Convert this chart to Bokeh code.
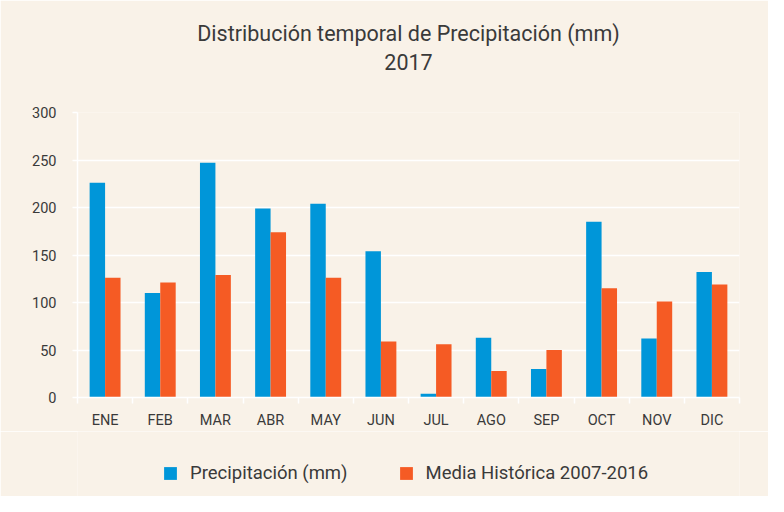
import numpy as np
from bokeh.plotting import figure
from bokeh.layouts import column
from bokeh.models import Range1d, FixedTicker, Title, Legend, LegendItem, ColumnDataSource
from bokeh.embed import file_html
from bokeh.resources import INLINE

months = ["ENE", "FEB", "MAR", "ABR", "MAY", "JUN", "JUL", "AGO", "SEP", "OCT", "NOV", "DIC"]
precip_2017 = [226, 110, 247, 199, 204, 154, 4, 63, 30, 185, 62, 132]
media_hist = [126, 121, 129, 174, 126, 59, 56, 28, 50, 115, 101, 119]
y_ticks = [0, 50, 100, 150, 200, 250, 300]

BG = "#F9F2E8"
BLUE = "#0096D9"
ORANGE = "#F55B24"
TXT = "#3A3A3A"
FONT = "Roboto"

centers = np.arange(len(months)) + 0.5
bw = 0.28
src = ColumnDataSource(dict(
    xb=centers - bw / 2, xo=centers + bw / 2,
    p=precip_2017, m=media_hist, mes=months))

p = figure(width=768, height=431,
           x_range=Range1d(0, 12), y_range=Range1d(0, 300),
           output_backend="svg", toolbar_location=None,
           title="Distribución temporal de Precipitación (mm)",
           background_fill_color=BG, border_fill_color=BG, outline_line_color=None,
           min_border_left=77, min_border_right=29, min_border_top=112, min_border_bottom=30)

p.title.text_font = FONT
p.title.text_font_size = "21.5px"
p.title.text_font_style = "normal"
p.title.text_color = TXT
p.title.align = "center"
p.title.standoff = 4
spacer = Title(text=" ", align="center", standoff=26, text_font_size="10px")
p.add_layout(spacer, "above")
t2 = Title(text="2017", align="center", standoff=8,
           text_font=FONT, text_font_size="21.5px", text_font_style="normal", text_color=TXT)
p.add_layout(t2, "above")

p.vbar(x="xb", top="p", width=bw, bottom=0, source=src, fill_color=BLUE, line_color=None)
p.vbar(x="xo", top="m", width=bw, bottom=0, source=src, fill_color=ORANGE, line_color=None)

# axes
xa = p.xaxis[0]
xa.ticker = FixedTicker(ticks=list(centers), minor_ticks=list(range(0, 13)))
xa.major_label_overrides = {float(c): m for c, m in zip(centers, months)}
xa.major_tick_out = 0
xa.major_tick_in = 0
xa.minor_tick_out = 6
xa.minor_tick_in = 0
xa.minor_tick_line_color = "white"
xa.minor_tick_line_width = 1.5
xa.axis_line_color = "white"
xa.axis_line_width = 1.5
xa.major_label_text_font = FONT
xa.major_label_text_font_size = "14.5px"
xa.major_label_text_color = TXT
xa.major_label_standoff = 8

ya = p.yaxis[0]
ya.ticker = FixedTicker(ticks=y_ticks)
ya.minor_tick_line_color = None
ya.major_tick_out = 5
ya.major_tick_in = 0
ya.major_tick_line_color = "white"
ya.major_tick_line_width = 1.5
ya.axis_line_color = "white"
ya.axis_line_width = 1.5
ya.major_label_text_font = FONT
ya.major_label_text_font_size = "14.5px"
ya.major_label_text_color = TXT
ya.major_label_standoff = 16

p.xgrid.grid_line_color = None
p.ygrid.grid_line_color = "white"
p.ygrid.grid_line_width = 1.5

# legend strip below the chart (same series, drawn out of view; only the legend shows)
lf = figure(width=768, height=65, x_range=Range1d(0, 12), y_range=Range1d(1000, 1001),
            x_axis_type=None, y_axis_type=None, output_backend="svg", toolbar_location=None,
            background_fill_color=BG, border_fill_color=BG, outline_line_color=None,
            min_border=0)
lf.grid.visible = False
l1 = lf.vbar(x="xb", top="p", width=bw, bottom=0, source=src, fill_color=BLUE, line_color=None)
l2 = lf.vbar(x="xo", top="m", width=bw, bottom=0, source=src, fill_color=ORANGE, line_color=None)

legend = Legend(items=[LegendItem(label="Precipitación (mm)", renderers=[l1]),
                       LegendItem(label="Media Histórica 2007-2016", renderers=[l2])],
                orientation="horizontal", location=(85, 12),
                background_fill_alpha=0, border_line_color=None,
                label_text_font=FONT, label_text_font_size="18.5px", label_text_color=TXT,
                glyph_width=16, glyph_height=16, label_standoff=12, spacing=50,
                margin=0, padding=0)
lf.add_layout(legend, "center")

layout = column(p, lf, spacing=0)
open("out.html", "w").write(file_html(layout, INLINE))
